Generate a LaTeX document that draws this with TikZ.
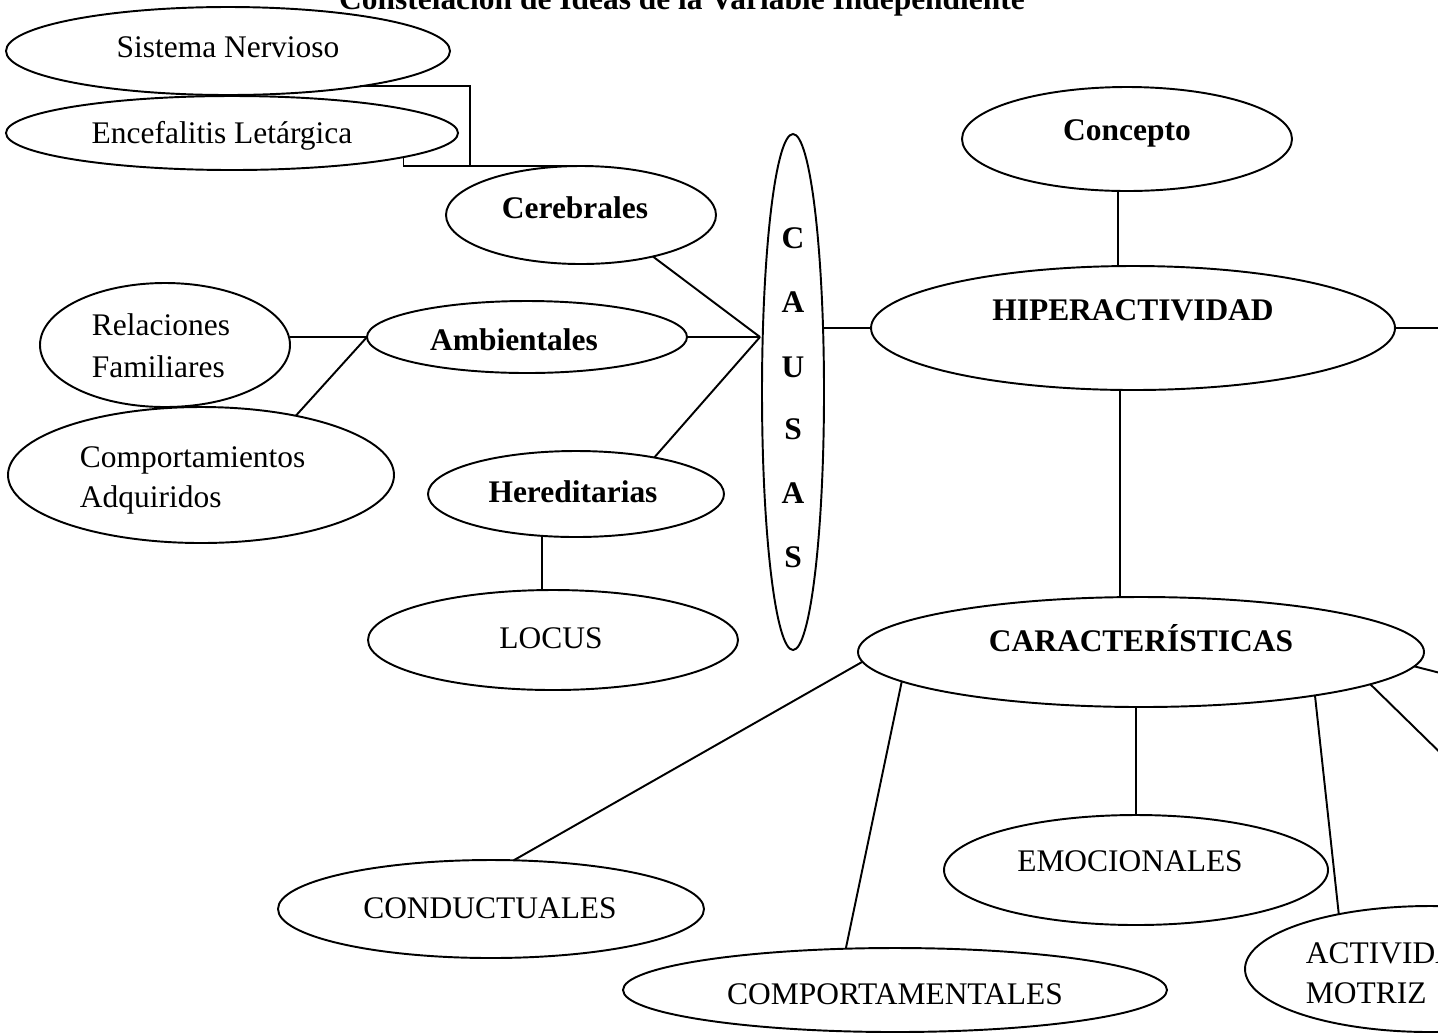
\documentclass[tikz,border=0pt]{standalone}
\usepackage{fontspec}
\setmainfont{Liberation Serif}
\usetikzlibrary{shapes.geometric}
\begin{document}
\begin{tikzpicture}[x=0.2mm,y=-0.2mm, line width=1.1pt,
  ell/.style 2 args={draw, ellipse, minimum width=#1*0.4mm, minimum height=#2*0.4mm, inner sep=0pt, outer sep=0pt},
  lbl/.style={inner sep=0pt, anchor=base, font=\fontsize{17.9}{22}\selectfont},
  lbll/.style={lbl, anchor=base west},
  blbl/.style={lbl, font=\fontsize{17.9}{22}\selectfont\bfseries}]
\fill[white] (0,0) rectangle (1438,1034);
\useasboundingbox (0,0) rectangle (1438,1034);

% ellipses
\node[ell={222}{44}] (sn) at (228,51) {};
\node[ell={226}{37}] (enc) at (232,133) {};
\node[ell={135}{49}] (cer) at (581,215) {};
\node[ell={125}{62}] (rel) at (165,345) {};
\node[ell={193}{68}] (cmp) at (201,475) {};
\node[ell={160}{36}] (amb) at (527,337) {};
\node[ell={148}{43}] (her) at (576,494) {};
\node[ell={185}{50}] (loc) at (553,640) {};
\node[ell={31}{258}] (cau) at (793,392) {};
\node[ell={165}{52}] (con) at (1127,139) {};
\node[ell={262}{62}] (hip) at (1133,328) {};
\node[ell={283}{55}] (car) at (1141,652) {};
\node[ell={213}{49}] (cnd) at (491,909) {};
\node[ell={272}{42}] (cpt) at (895,990) {};
\node[ell={192}{55}] (emo) at (1136,870) {};
\node[ell={185}{63}] (act) at (1430,969) {};

% texts
\node[blbl, anchor=base] (title) at (682,9) {Constelación de Ideas de la Variable Independiente};
\node[lbl] (tsn) at (228,57) {Sistema Nervioso};
\node[lbl] (tenc) at (222,143) {Encefalitis Letárgica};
\node[blbl] (tcer) at (575,218) {Cerebrales};
\node[lbll] (trel1) at (91,335) {Relaciones};
\node[lbll] (trel2) at (91,377) {Familiares};
\node[lbll] (tcmp1) at (79,467) {Comportamientos};
\node[lbll] (tcmp2) at (79,507) {Adquiridos};
\node[blbl] (tamb) at (514,350) {Ambientales};
\node[blbl] (ther) at (573,502) {Hereditarias};
\node[lbl] (tloc) at (551,648) {LOCUS};
\node[blbl] (tcon) at (1127,140) {Concepto};
\node[blbl] (thip) at (1133,320) {HIPERACTIVIDAD};
\node[blbl] (tcar) at (1141,651) {CARACTERÍSTICAS};
\node[lbl] (tcnd) at (490,918) {CONDUCTUALES};
\node[lbl] (tcpt) at (895,1004) {COMPORTAMENTALES};
\node[lbl] (temo) at (1130,871) {EMOCIONALES};
\node[lbll] (tact1) at (1305,963) {ACTIVIDAD};
\node[lbll] (tact2) at (1305,1003) {MOTRIZ};
\foreach \l/\y [count=\i] in {C/248,A/312,U/377,S/439,A/503,S/567}
  \node[blbl] (cl\i) at (793,\y) {\l};

% connectors
\coordinate (j1) at (470,166);
\draw (sn.-15.7) -| (j1) -- (cer.north);
\draw (enc.-8.6) |- (j1);
\coordinate (cv) at (760,337);
\draw (cer.-30.8) -- (cv);
\draw (amb.east) -- (cv);
\draw (her.25.4) -- (cv);
\draw (amb.west) -- (amb.west -| rel.east);
\draw (cmp.32.3) -- (amb.west);
\draw (her.-129) -- (her.-129 |- loc.north);
\draw (hip.west) -- (hip.west -| cau.east);
\draw (con.-100) -- (con.-100 |- hip.north);
\draw (hip.-102) -- (hip.-102 |- car.north);
\coordinate (hr) at (1460,328);
\draw (hip.east) -- (hr);
\draw (car.182.5) -- (cnd.65.9);
\draw (car.187.4) -- (cpt.140.6);
\draw (emo.north) -- (emo.north |- car.south);
\draw (car.-14.8) -- (act.149);
\coordinate (o1) at (1460,772);
\draw (car.-8) -- (o1);
\coordinate (o2) at (1460,678);
\draw (car.-3.5) -- (o2);
\end{tikzpicture}
\end{document}
